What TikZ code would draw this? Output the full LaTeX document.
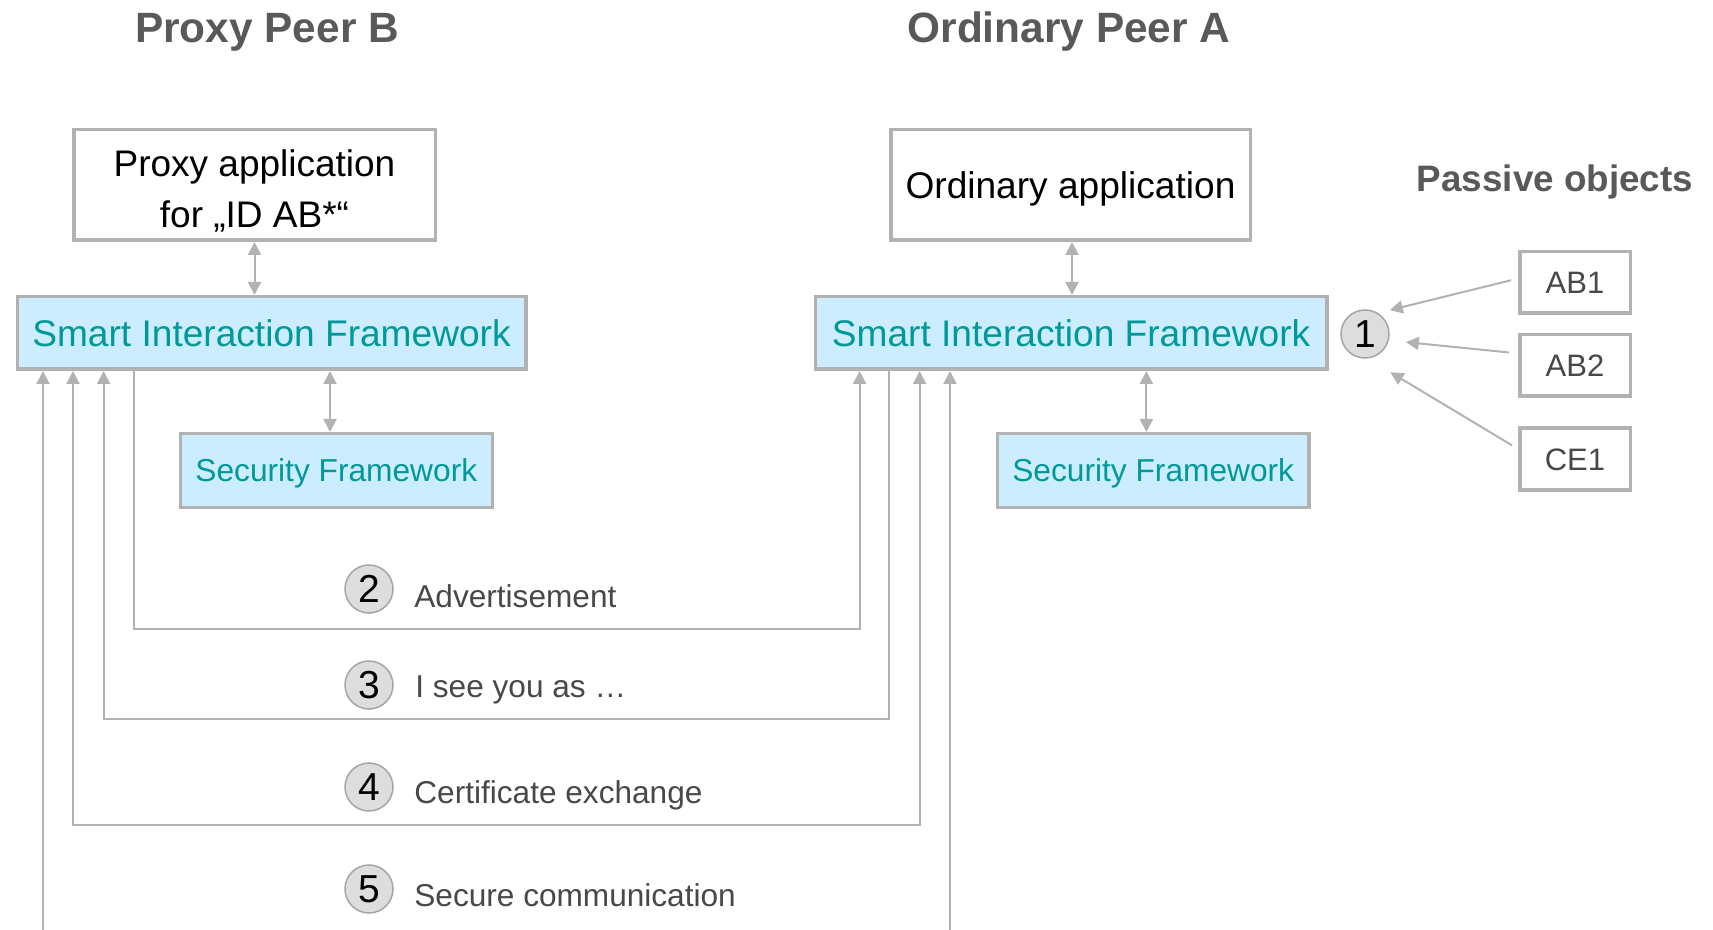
\documentclass[tikz,border=0pt]{standalone}
\usepackage{fontspec}
\setmainfont{Liberation Sans}
\usetikzlibrary{arrows.meta}
\definecolor{bord}{RGB}{178,178,178}
\definecolor{lblue}{RGB}{204,236,255}
\definecolor{sitext}{RGB}{0,153,153}
\definecolor{titlegray}{RGB}{89,89,89}
\definecolor{lblgray}{RGB}{72,72,72}
\definecolor{cfill}{RGB}{221,221,221}
\definecolor{cborder}{RGB}{165,165,165}
\begin{document}
\begin{tikzpicture}[x=0.5pt,y=-0.5pt,
  >={Triangle[length=6.5pt,width=6.5pt]},
  conn/.style={draw=bord, line width=1pt},
  wbox/.style={draw=bord, line width=1.75pt, fill=white, inner sep=0pt},
  bbox/.style={draw=bord, line width=1.75pt, fill=lblue, inner sep=0pt, text=sitext},
  objbox/.style={draw=bord, line width=1.75pt, fill=white, inner sep=0pt, text=lblgray,
     minimum width=55.25pt, minimum height=30.75pt, text height=11.1pt, text depth=0pt,
     font=\fontsize{15.5}{18}\selectfont},
  numc/.style={circle, fill=cfill, draw=cborder, line width=0.75pt, minimum size=24pt,
     inner sep=0pt, text height=13.96pt, text depth=0pt, font=\fontsize{19.5}{20}\selectfont},
  lbl/.style={anchor=base west, inner sep=0pt, text=lblgray, font=\fontsize{15.8}{19}\selectfont},
  ttl/.style={anchor=base, inner sep=0pt, text=titlegray},
]
\useasboundingbox (0,0) rectangle (1713,930);

% titles
\node[ttl, font=\bfseries\fontsize{21.2}{25}\selectfont] (tB) at (267,43) {Proxy Peer B};
\node[ttl, font=\bfseries\fontsize{21.2}{25}\selectfont] (tA) at (1069,43) {Ordinary Peer A};
\node[ttl, font=\bfseries\fontsize{18.4}{22}\selectfont] (tP) at (1555,192) {Passive objects};

% application boxes
\node[wbox, minimum width=180.75pt, minimum height=55.25pt, align=center,
      font=\fontsize{18.5}{25.5}\selectfont] (appB) at (254.5,185)
      {\rule{0pt}{20.2pt}Proxy application\\for „ID AB*“\rule[-3pt]{0pt}{3pt}};
\node[wbox, minimum width=179.75pt, minimum height=55.25pt, text height=13.28pt, text depth=0pt,
      font=\fontsize{18.55}{23.5}\selectfont] (appA) at (1070.5,185) {Ordinary application};

% smart interaction frameworks
\node[bbox, minimum width=254.25pt, minimum height=36.25pt, text height=13.28pt, text depth=0pt,
      font=\fontsize{18.55}{22}\selectfont] (sifB) at (271.5,333) {Smart Interaction Framework};
\node[bbox, minimum width=255.75pt, minimum height=36.25pt, text height=13.28pt, text depth=0pt,
      font=\fontsize{18.55}{22}\selectfont] (sifA) at (1071.1,333) {Smart Interaction Framework};

% security frameworks
\node[bbox, minimum width=155.95pt, minimum height=36.75pt, text height=11.35pt, text depth=0pt,
      font=\fontsize{15.85}{19}\selectfont] (sfB) at (336.3,470.5) {Security Framework};
\node[bbox, minimum width=155.75pt, minimum height=36.75pt, text height=11.35pt, text depth=0pt,
      font=\fontsize{15.85}{19}\selectfont] (sfA) at (1153.2,470.5) {Security Framework};

% passive objects
\node[numc] (c1) at (1365,334) {1};
\node[objbox] (ab1) at (1575,282.5) {AB1};
\node[objbox] (ab2) at (1575,365.5) {AB2};
\node[objbox] (ce1) at (1575,459) {CE1};

% step markers and labels
\node[numc] (c2) at (369,589) {2};
\node[numc] (c3) at (369,685) {3};
\node[numc] (c4) at (369,787) {4};
\node[numc] (c5) at (369,889) {5};
\node[lbl] (l2) at (414,607) {Advertisement};
\node[lbl] (l3) at (415,697) {I see you as …};
\node[lbl] (l4) at (414,803) {Certificate exchange};
\node[lbl] (l5) at (414,906) {Secure communication};

% vertical links inside peers
\coordinate (xab) at (1072,0);
\coordinate (xsb) at (330,0);
\coordinate (xsa) at (1146.4,0);
\draw[conn,<->] (appB.south) -- (appB.south |- sifB.north);
\draw[conn,<->] (appA.south -| xab) -- (sifA.north -| xab);
\draw[conn,<->] (sifB.south -| xsb) -- (sfB.north -| xsb);
\draw[conn,<->] (sifA.south -| xsa) -- (sfA.north -| xsa);

% passive object arrows
\draw[conn,->,shorten <=3.5pt,shorten >=6pt] (ab1.176) -- (c1.58);
\draw[conn,->,shorten <=4.5pt,shorten >=8.5pt] (ab2.168) -- (c1.-15);
\draw[conn,->,shorten <=3.5pt,shorten >=13.3pt] (ce1.170) -- (c1.-84);

% message flows
\coordinate (a2) at (134,629);  \coordinate (b2) at (859.6,629);
\coordinate (a3) at (889,719);  \coordinate (b3) at (103.6,719);
\coordinate (a4) at (73,825);   \coordinate (b4) at (919.6,825);
\coordinate (e5l) at (43,930);  \coordinate (e5r) at (950,930);
\draw[conn,->] (sifB.south -| a2) |- (b2) -- (sifA.south -| b2);
\draw[conn,->] (sifA.south -| a3) |- (b3) -- (sifB.south -| b3);
\draw[conn,<->] (sifB.south -| a4) |- (b4) -- (sifA.south -| b4);
\draw[conn,->] (e5l) -- (sifB.south -| e5l);
\draw[conn,->] (e5r) -- (sifA.south -| e5r);
\end{tikzpicture}
\end{document}
